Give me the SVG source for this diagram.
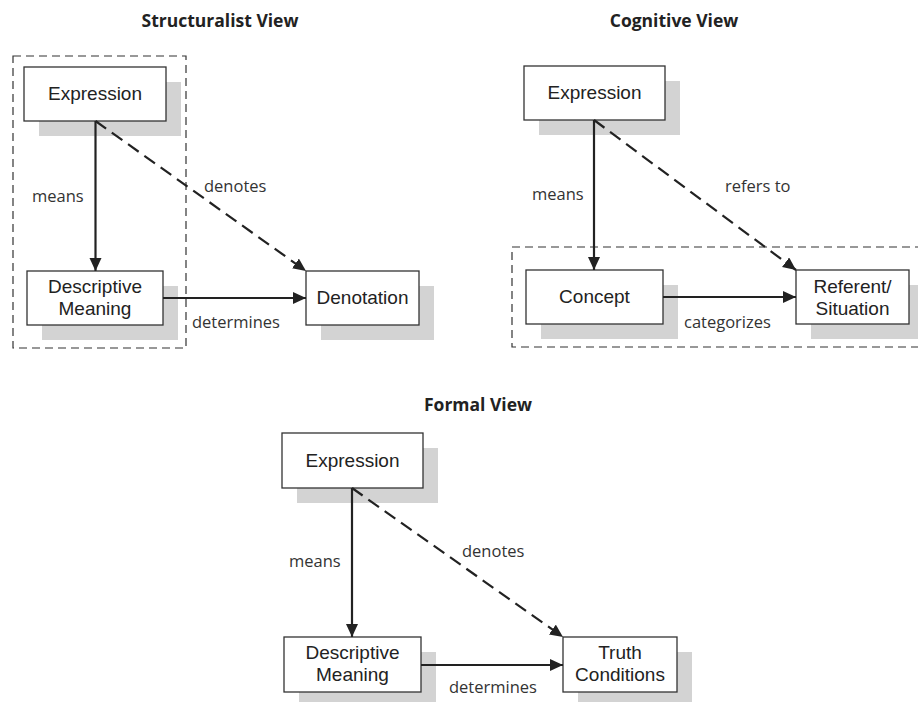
<svg xmlns="http://www.w3.org/2000/svg" width="918" height="702" viewBox="0 0 918 702">
  <style>
    .title { font-family: "Open Sans", "Liberation Sans", sans-serif; font-weight: bold; font-size: 17.5px; fill: #222; text-anchor: middle; }
    .box { fill: #fff; stroke: #333; stroke-width: 1.3; }
    .shadow { fill: #d3d3d3; }
    .node-text { font-family: "Liberation Sans", Arial, sans-serif; font-size: 19px; fill: #222; text-anchor: middle; }
    .label { font-family: "Open Sans", "Liberation Sans", sans-serif; font-size: 16.5px; fill: #333; }
    .frame { fill: none; stroke: #333; stroke-width: 1.2; stroke-dasharray: 8 5; }
    .solid { fill: none; stroke: #222; stroke-width: 2.2; marker-end: url(#head); }
    .dashed { fill: none; stroke: #222; stroke-width: 2.2; stroke-dasharray: 13 7; marker-end: url(#head); }
  </style>
  <defs>
    <marker id="head" markerUnits="userSpaceOnUse" markerWidth="14" markerHeight="13" refX="13" refY="6" orient="auto">
      <path d="M0,0 L13,6 L0,12 z" fill="#222"/>
    </marker>
  </defs>

  <rect width="918" height="702" fill="#fff"/>

  <!-- titles -->
  <text class="title" x="220" y="27">Structuralist View</text>
  <text class="title" x="674" y="27">Cognitive View</text>
  <text class="title" x="478" y="411">Formal View</text>

  <!-- grouping frames -->
  <g id="frames">
    <rect class="frame" x="13" y="56" width="173" height="292"/>
    <rect class="frame" x="512" y="247" width="420" height="100"/>
  </g>

  <!-- Structuralist view nodes -->
  <g id="s-expression">
    <rect class="shadow" x="39" y="82" width="142" height="54"/>
    <rect class="box" x="24" y="67" width="142" height="54"/>
    <text class="node-text" x="95" y="100">Expression</text>
  </g>
  <g id="s-descriptive">
    <rect class="shadow" x="42" y="286" width="136" height="54"/>
    <rect class="box" x="27" y="271" width="136" height="54"/>
    <text class="node-text" x="95" y="293">Descriptive</text>
    <text class="node-text" x="95" y="315">Meaning</text>
  </g>
  <g id="s-denotation">
    <rect class="shadow" x="321" y="286" width="113" height="54"/>
    <rect class="box" x="306" y="271" width="113" height="54"/>
    <text class="node-text" x="362.5" y="304">Denotation</text>
  </g>

  <!-- Cognitive view nodes -->
  <g id="c-expression">
    <rect class="shadow" x="539" y="81" width="141" height="54"/>
    <rect class="box" x="524" y="66" width="141" height="54"/>
    <text class="node-text" x="594.5" y="99">Expression</text>
  </g>
  <g id="c-concept">
    <rect class="shadow" x="541" y="285" width="137" height="54"/>
    <rect class="box" x="526" y="270" width="137" height="54"/>
    <text class="node-text" x="594.5" y="303">Concept</text>
  </g>
  <g id="c-referent">
    <rect class="shadow" x="811" y="285" width="113" height="54"/>
    <rect class="box" x="796" y="270" width="113" height="54"/>
    <text class="node-text" x="852.5" y="293">Referent/</text>
    <text class="node-text" x="852.5" y="315">Situation</text>
  </g>

  <!-- Formal view nodes -->
  <g id="f-expression">
    <rect class="shadow" x="297" y="448" width="141" height="55"/>
    <rect class="box" x="282" y="433" width="141" height="55"/>
    <text class="node-text" x="352.5" y="467">Expression</text>
  </g>
  <g id="f-descriptive">
    <rect class="shadow" x="299" y="652" width="137" height="55"/>
    <rect class="box" x="284" y="637" width="137" height="55"/>
    <text class="node-text" x="352.5" y="659">Descriptive</text>
    <text class="node-text" x="352.5" y="681">Meaning</text>
  </g>
  <g id="f-truth">
    <rect class="shadow" x="578" y="652" width="114" height="55"/>
    <rect class="box" x="563" y="637" width="114" height="55"/>
    <text class="node-text" x="620" y="659">Truth</text>
    <text class="node-text" x="620" y="681">Conditions</text>
  </g>

  <!-- connectors -->
  <g id="connectors">
    <line class="solid" x1="95.5" y1="121" x2="95.5" y2="271"/>
    <line class="dashed" x1="95.5" y1="121" x2="306" y2="271"/>
    <line class="solid" x1="163" y1="298" x2="306" y2="298"/>

    <line class="solid" x1="594" y1="120" x2="594" y2="270"/>
    <line class="dashed" x1="594" y1="120" x2="796" y2="270"/>
    <line class="solid" x1="663" y1="297" x2="796" y2="297"/>

    <line class="solid" x1="352" y1="488" x2="352" y2="637"/>
    <line class="dashed" x1="352" y1="488" x2="563" y2="637"/>
    <line class="solid" x1="421" y1="665" x2="563" y2="665"/>
  </g>

  <!-- connector labels -->
  <g id="labels">
    <text class="label" x="32" y="202">means</text>
    <text class="label" x="204" y="192">denotes</text>
    <text class="label" x="192" y="328">determines</text>

    <text class="label" x="532" y="200">means</text>
    <text class="label" x="725" y="192">refers to</text>
    <text class="label" x="684" y="328">categorizes</text>

    <text class="label" x="289" y="567">means</text>
    <text class="label" x="462" y="557">denotes</text>
    <text class="label" x="449" y="693">determines</text>
  </g>
</svg>
